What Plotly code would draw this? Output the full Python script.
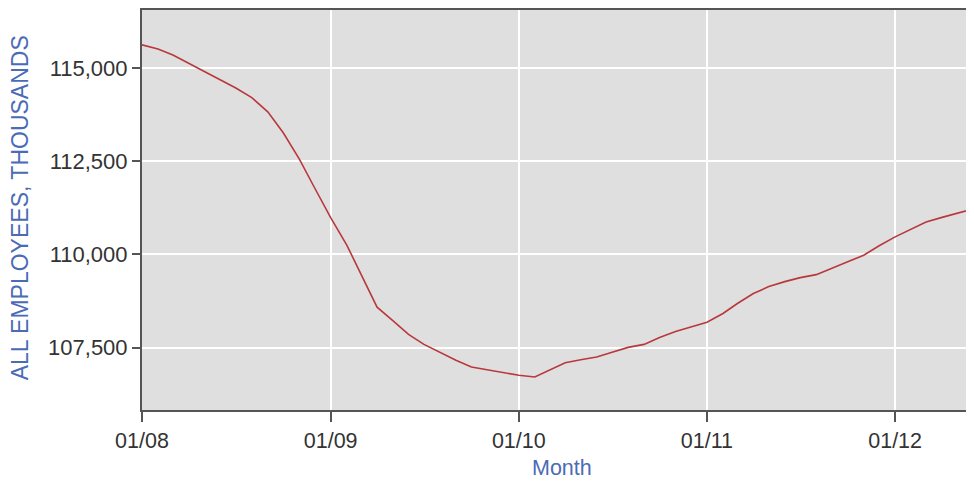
import plotly.graph_objects as go

months = ["2008-%02d-01" % m for m in range(1, 13)] + \
         ["2009-%02d-01" % m for m in range(1, 13)] + \
         ["2010-%02d-01" % m for m in range(1, 13)] + \
         ["2011-%02d-01" % m for m in range(1, 13)] + \
         ["2012-%02d-01" % m for m in range(1, 7)]

employees = [
    115626, 115513, 115353, 115126, 114898, 114684, 114468, 114209, 113826, 113267, 112567, 111783,
    110989, 110259, 109484, 108583, 108227, 107852, 107585, 107372, 107158, 106979, 106904, 106824,
    106757, 106711, 106890, 107091, 107171, 107246, 107372, 107505, 107585, 107772, 107933, 108066,
    108182, 108414, 108682, 108949, 109136, 109270, 109377, 109457, 109644, 109805, 109979, 110233,
    110471, 110684, 110872, 110995, 111115, 111222,
]

y_ticks = [107500, 110000, 112500, 115000]
x_ticks = ["2008-01-01", "2009-01-01", "2010-01-01", "2011-01-01", "2012-01-01"]
x_labels = ["01/08", "01/09", "01/10", "01/11", "01/12"]

fig = go.Figure()
fig.add_trace(go.Scatter(
    x=months, y=employees, mode="lines",
    line=dict(color="#b8383c", width=1.6),
    showlegend=False,
))

# the page body has an 8px margin, so the figure is shifted by 8px
fig.update_layout(
    width=966, height=476,
    margin=dict(l=134, r=0, t=0, b=74),
    paper_bgcolor="white",
    plot_bgcolor="#dfdfdf",
    font=dict(family="Liberation Sans, Arial, sans-serif", size=21, color="#333333"),
    xaxis=dict(
        range=["2008-01-01", "2012-06-02"],
        tickvals=x_ticks, ticktext=x_labels,
        showgrid=True, gridcolor="white", gridwidth=2,
        showline=True, linecolor="#555555", linewidth=2, mirror=True,
        ticks="outside", ticklen=10, tickcolor="#555555", tickwidth=2,
        tickfont=dict(size=21.5, color="#333333"),
        zeroline=False,
    ),
    yaxis=dict(
        range=[105824, 116561],
        tickvals=y_ticks, tickformat=",d",
        showgrid=True, gridcolor="white", gridwidth=2,
        showline=True, linecolor="#555555", linewidth=2,
        ticks="outside", ticklen=8, tickcolor="#555555", tickwidth=2,
        tickfont=dict(size=22, color="#333333"),
        zeroline=False,
    ),
    annotations=[
        dict(text="ALL EMPLOYEES, THOUSANDS", xref="paper", yref="paper",
             x=-0.1462, y=0.505, xanchor="center", yanchor="middle",
             textangle=-90, showarrow=False,
             font=dict(size=23, color="#4a6bb5")),
        dict(text="Month", xref="paper", yref="paper",
             x=0.505, y=-0.145, xanchor="center", yanchor="middle",
             showarrow=False,
             font=dict(size=21.5, color="#4a6bb5")),
    ],
)

fig.write_html("out.html")
